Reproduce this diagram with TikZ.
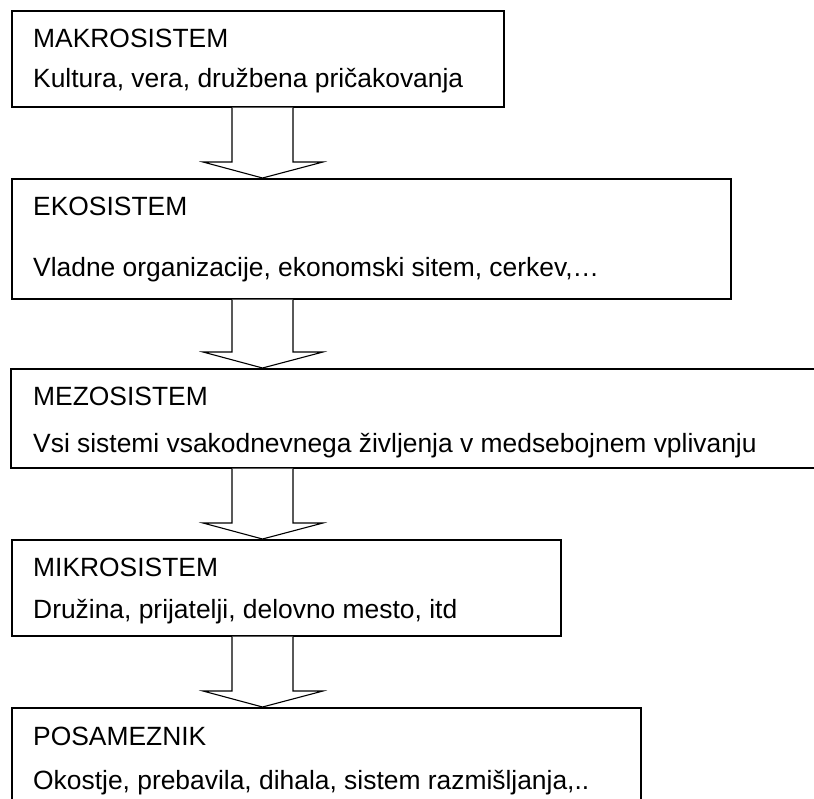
\documentclass[tikz,border=0pt]{standalone}
\usepackage{fontspec}
\setmainfont{Liberation Sans}
\usetikzlibrary{calc}
\begin{document}
\begin{tikzpicture}[x=1pt,y=-1pt,
  sysbox/.style={draw=black,line width=1.6pt,fill=white,inner sep=0pt,anchor=north west},
  boxtext/.style={anchor=base west,inner sep=0pt,font=\fontsize{26.4}{32}\selectfont},
  blockarrow/.style={draw=black,line width=1.1pt,fill=white,line join=miter}]
\useasboundingbox (0,0) rectangle (814,798);
\clip (0,0) rectangle (814,798);
% boxes
\node[sysbox,minimum width=492pt,minimum height=96pt] (b1) at (11,10) {};
\node[sysbox,minimum width=719pt,minimum height=120pt] (b2) at (11,178) {};
\node[sysbox,minimum width=820pt,minimum height=99pt] (b3) at (10,368) {};
\node[sysbox,minimum width=549pt,minimum height=96pt] (b4) at (11,539) {};
\node[sysbox,minimum width=629pt,minimum height=110pt] (b5) at (11,707) {};
% texts
\node[boxtext] (t1a) at (33,47) {MAKROSISTEM};
\node[boxtext] (t1b) at (33,87) {Kultura, vera, družbena pričakovanja};
\node[boxtext] (t2a) at (33,215) {EKOSISTEM};
\node[boxtext] (t2b) at (33,276) {Vladne organizacije, ekonomski sitem, cerkev,…};
\node[boxtext] (t3a) at (33,405) {MEZOSISTEM};
\node[boxtext] (t3b) at (33,452) {Vsi sistemi vsakodnevnega življenja v medsebojnem vplivanju};
\node[boxtext] (t4a) at (33,576) {MIKROSISTEM};
\node[boxtext] (t4b) at (33,618) {Družina, prijatelji, delovno mesto, itd};
\node[boxtext] (t5a) at (33,745) {POSAMEZNIK};
\node[boxtext] (t5b) at (33,789) {Okostje, prebavila, dihala, sistem razmišljanja,..};
% block arrows between boxes
\foreach \a/\b in {b1/b2,b2/b3,b3/b4,b4/b5}{
  \draw[blockarrow] let \p1=(\a.south), \p2=(\b.north) in
    (232pt,\y1) -- (232pt,\y2+16pt) -- (203pt,\y2+16pt) -- (262.5pt,\y2)
    -- (323pt,\y2+16pt) -- (293pt,\y2+16pt) -- (293pt,\y1);
}
\end{tikzpicture}
\end{document}
